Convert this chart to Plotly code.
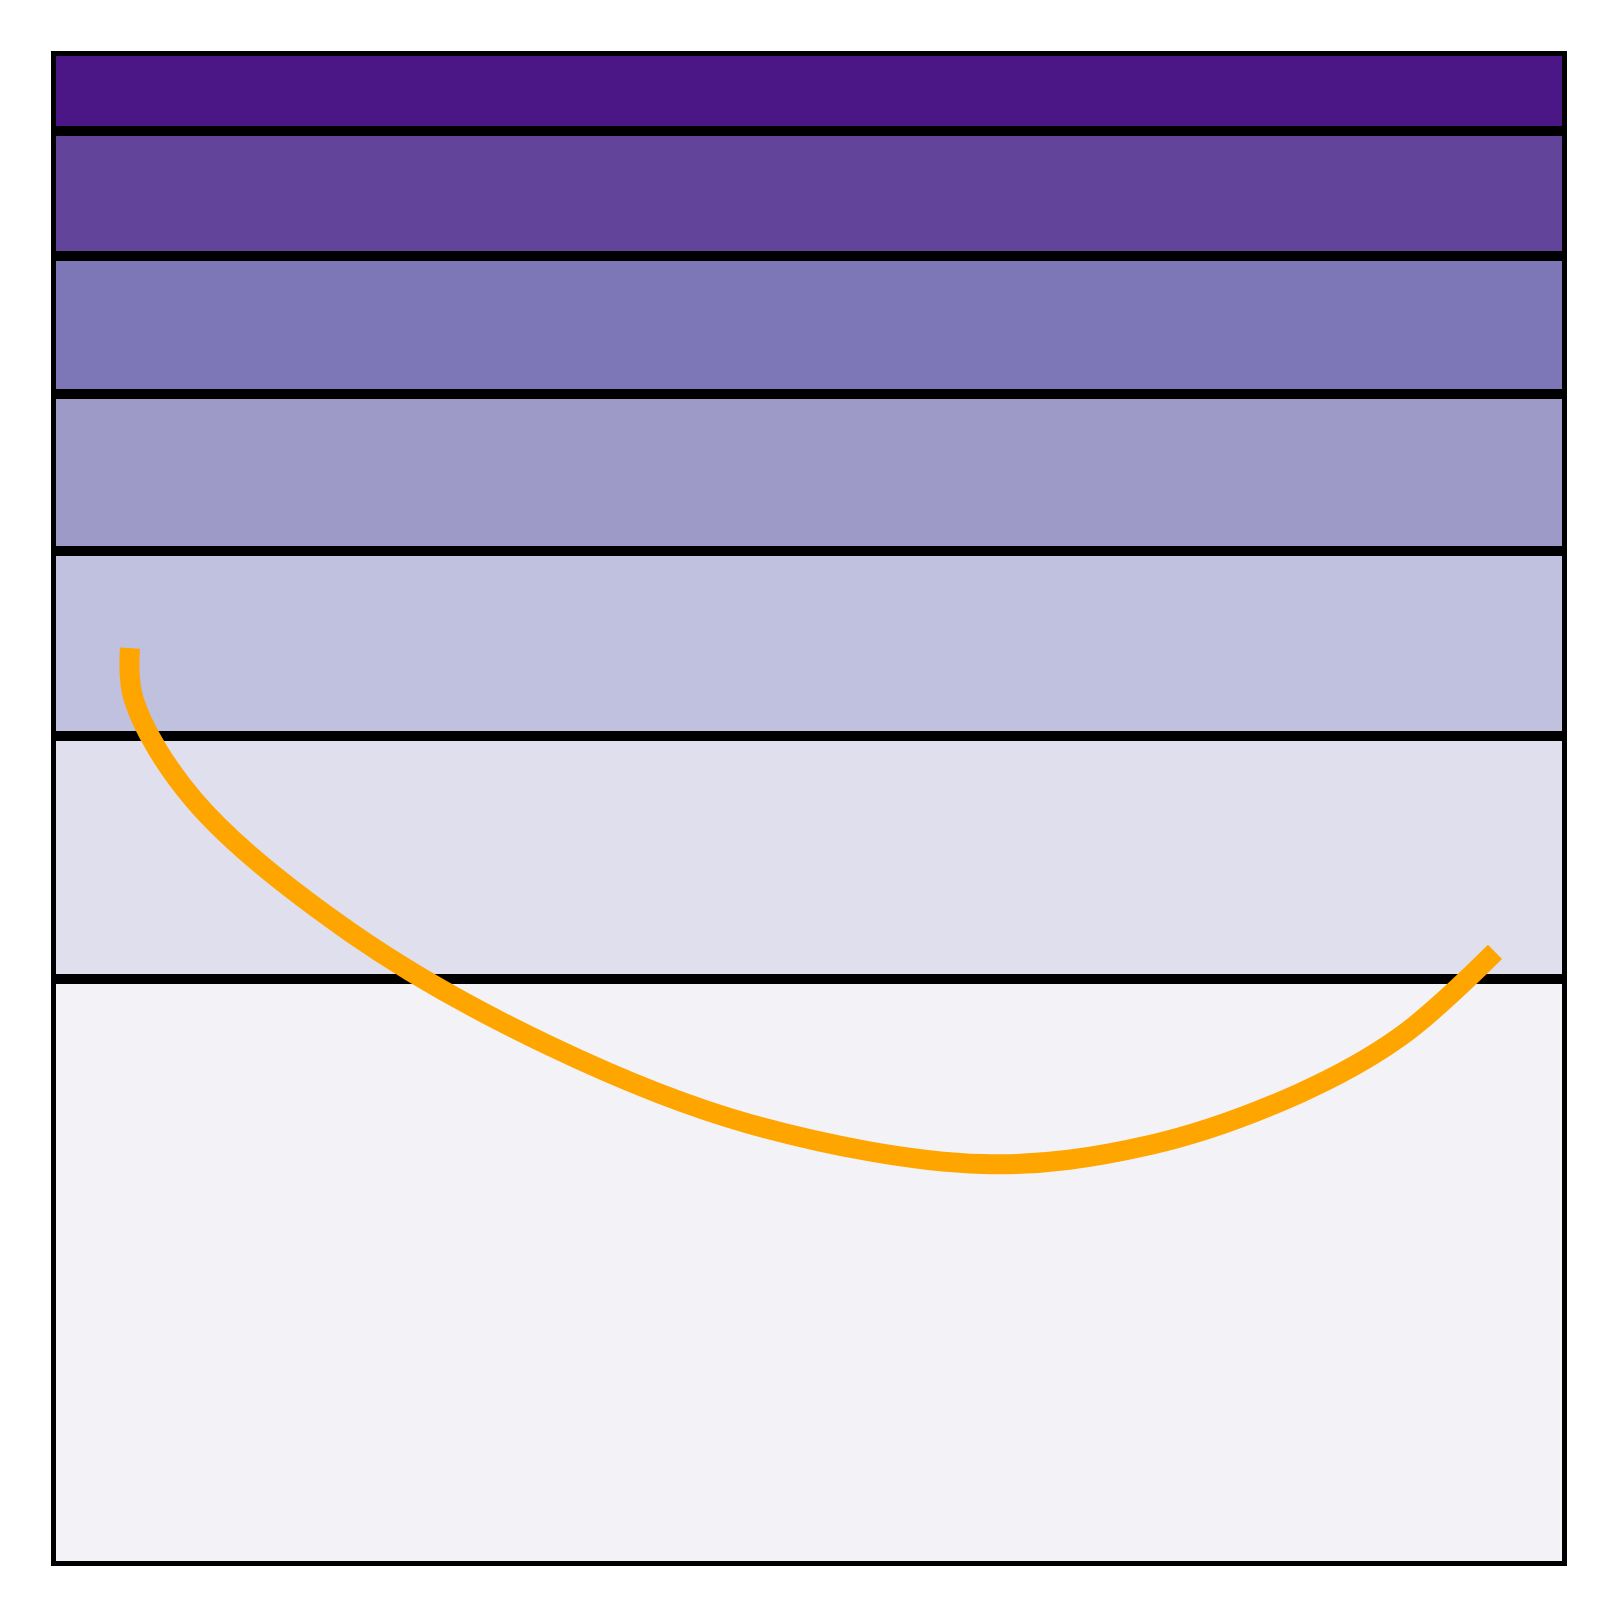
import plotly.graph_objects as go

# Stacked background bands (bottom to top)
band_names = ["Band 1", "Band 2", "Band 3", "Band 4", "Band 5", "Band 6", "Band 7"]
band_values = [38.77, 16.02, 12.23, 10.37, 9.08, 8.28, 5.25]
band_colors = ["#f3f2f7", "#e0dfee", "#c0c0df", "#9d9ac8", "#7e77b7", "#62459a", "#4b1786"]

# Orange curve
line_x = [0.0521, 0.0547, 0.0943, 0.1972, 0.3292, 0.4611, 0.6148, 0.7249, 0.8239, 0.8898, 0.9525]
line_y = [60.59, 57.16, 50.56, 41.85, 34.32, 29.17, 26.53, 27.79, 31.22, 34.92, 40.53]

fig = go.Figure()
for name, val, col in zip(band_names, band_values, band_colors):
    fig.add_trace(go.Bar(
        x=[0.5], y=[val], width=[1], name=name,
        marker=dict(color=col, line=dict(color="black", width=10)),
        hoverinfo="skip",
    ))

fig.add_trace(go.Scatter(
    x=line_x, y=line_y, mode="lines",
    line=dict(color="orange", width=20, shape="spline", smoothing=1),
    name="curve",
))

fig.update_layout(
    barmode="stack",
    width=1601, height=1601,
    margin=dict(l=43, r=42, t=43, b=43),
    paper_bgcolor="white", plot_bgcolor="white",
    showlegend=False,
    xaxis=dict(range=[0, 1], visible=False),
    yaxis=dict(range=[0, 100], visible=False),
)

fig.write_html("out.html")
